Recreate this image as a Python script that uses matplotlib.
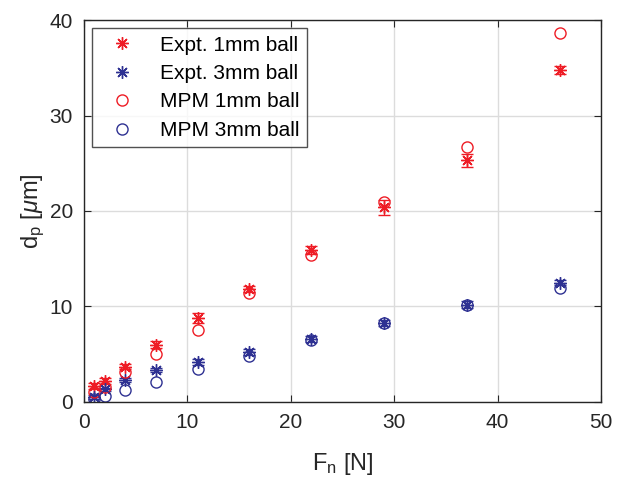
import matplotlib
matplotlib.use("Agg")
import matplotlib.pyplot as plt
from matplotlib.lines import Line2D

plt.rcParams['font.family'] = ['Liberation Sans', 'DejaVu Sans']
plt.rcParams['mathtext.fontset'] = 'custom'
plt.rcParams['mathtext.rm'] = 'Liberation Sans'
plt.rcParams['mathtext.it'] = 'Liberation Sans:italic'

force = [1, 2, 4, 7, 11, 16, 22, 29, 37, 46]
expt_1mm = [1.7, 2.2, 3.7, 6.0, 8.8, 11.8, 15.9, 20.4, 25.3, 34.8]
expt_1mm_err = [0.3, 0.3, 0.3, 0.4, 0.5, 0.3, 0.4, 0.8, 0.7, 0.4]
expt_3mm = [0.5, 1.3, 2.3, 3.3, 4.2, 5.2, 6.6, 8.3, 10.2, 12.5]
expt_3mm_err = [0.2, 0.2, 0.2, 0.2, 0.3, 0.3, 0.3, 0.3, 0.4, 0.3]
mpm_1mm = [1.0, 1.6, 3.1, 5.0, 7.5, 11.4, 15.4, 20.9, 26.7, 38.6]
mpm_3mm = [0.3, 0.6, 1.2, 2.1, 3.4, 4.8, 6.5, 8.3, 10.1, 11.9]

red = '#ee1c25'
blue = '#2e3192'
star = (8, 2, 0)

fig = plt.figure(figsize=(6.17, 4.79), dpi=100)
ax = fig.add_axes([0.136, 0.161, 0.838, 0.797])

ax.errorbar(force, expt_1mm, yerr=expt_1mm_err, fmt='none', ecolor=red,
            capsize=4, elinewidth=1, capthick=1)
ax.errorbar(force, expt_3mm, yerr=expt_3mm_err, fmt='none', ecolor=blue,
            capsize=4, elinewidth=1, capthick=1)
ax.plot(force, expt_1mm, linestyle='none', marker=star, color=red, ms=9, mew=1)
ax.plot(force, expt_3mm, linestyle='none', marker=star, color=blue, ms=9, mew=1)
ax.plot(force, mpm_1mm, 'o', mfc='none', mec=red, ms=8, mew=1)
ax.plot(force, mpm_3mm, 'o', mfc='none', mec=blue, ms=8, mew=1)

ax.set_xlim(0, 50)
ax.set_ylim(0, 40)
ax.set_xticks([0, 10, 20, 30, 40, 50])
ax.set_yticks([0, 10, 20, 30, 40])
ax.grid(True, color='#dcdcdc', linewidth=1)
ax.set_axisbelow(True)
ax.tick_params(direction='in', length=5, labelsize=15, top=True, right=True,
               color='#262626', labelcolor='#262626', pad=8)
for s in ax.spines.values():
    s.set_color('#262626')
    s.set_linewidth(1)

ax.set_xlabel(r'F$_\mathrm{n}$ [N]', fontsize=17, color='#262626', labelpad=14)
ax.set_ylabel(r'd$_\mathrm{p}$ [$\mu$m]', fontsize=17, color='#262626', labelpad=2)

handles = [
    Line2D([], [], linestyle='none', marker=star, color=red, ms=9, mew=1),
    Line2D([], [], linestyle='none', marker=star, color=blue, ms=9, mew=1),
    Line2D([], [], linestyle='none', marker='o', mfc='none', mec=red, ms=8, mew=1),
    Line2D([], [], linestyle='none', marker='o', mfc='none', mec=blue, ms=8, mew=1),
]
labels = ['Expt. 1mm ball', 'Expt. 3mm ball', 'MPM 1mm ball', 'MPM 3mm ball']
leg = ax.legend(handles, labels, loc='upper left', fontsize=15, frameon=True,
                fancybox=False, edgecolor='#262626', borderaxespad=0.4,
                handletextpad=0.7, labelspacing=0.45, borderpad=0.35,
                handlelength=2.2)
leg.get_frame().set_linewidth(1)

fig.savefig('out.png', dpi=100)
